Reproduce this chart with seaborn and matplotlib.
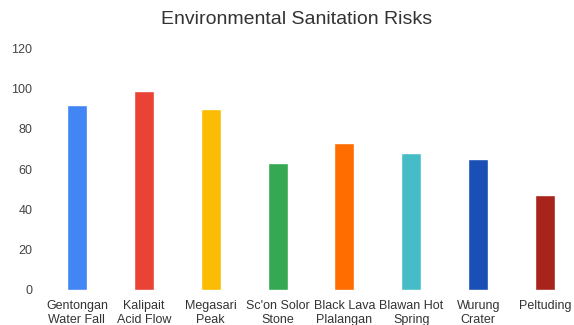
import matplotlib
matplotlib.use("Agg")
import matplotlib.pyplot as plt
import seaborn as sns
import pandas as pd

# Sites and their environmental sanitation risk scores
sites = [
    "Gentongan\nWater Fall",
    "Kalipait\nAcid Flow",
    "Megasari\nPeak",
    "Sc'on Solor\nStone",
    "Black Lava\nPlalangan",
    "Blawan Hot\nSpring",
    "Wurung\nCrater",
    "Peltuding",
]
scores = [92, 99, 90, 63, 73, 68, 65, 47]
bar_colors = ["#4285F4", "#EA4335", "#FBBC04", "#34A853",
              "#FF6D01", "#46BDC6", "#1A4FB5", "#A8231B"]
y_ticks = [0, 20, 40, 60, 80, 100, 120]

df = pd.DataFrame({"site": sites, "score": scores})

sns.set_theme(style="white")
plt.rcParams["font.family"] = ["Liberation Sans", "DejaVu Sans"]

W, H = 574, 325
fig = plt.figure(figsize=(W / 100, H / 100), dpi=100)
ax = fig.add_axes([43.5 / W, (H - 290) / H, 535 / W, (290 - 48.3) / H])

sns.barplot(data=df, x="site", y="score", hue="site", palette=bar_colors,
            legend=False, width=0.3, saturation=1, ax=ax)

ax.set_xlim(-0.5, 7.5)
ax.set_ylim(0, 120)
ax.set_yticks(y_ticks)
ax.set_yticklabels([str(t) for t in y_ticks])
ax.tick_params(axis="y", labelsize=9, colors="#444444", length=0, pad=8)
ax.tick_params(axis="x", labelsize=9, colors="#333333", length=0, pad=7)
for lbl in ax.get_xticklabels():
    lbl.set_linespacing(1.25)
ax.set_xlabel("")
ax.set_ylabel("")
for s in ax.spines.values():
    s.set_visible(False)

fig.text(297 / W, 1 - 20 / H, "Environmental Sanitation Risks",
         ha="center", va="center", fontsize=14, color="#333333")

fig.savefig("out.png", dpi=100)
